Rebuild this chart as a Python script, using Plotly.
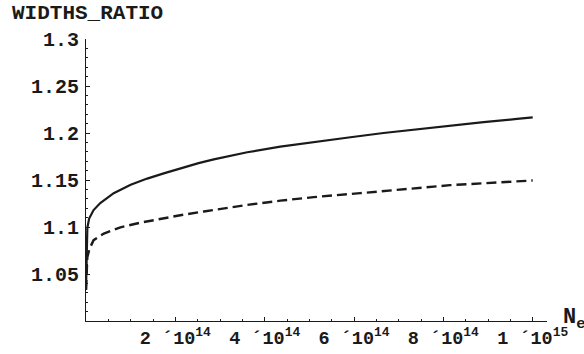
import numpy as np
import plotly.graph_objects as go

# data (N_e values, ratio)
ne_solid = [0.0, 0.01e14, 0.03e14, 0.07e14, 0.17e14, 0.32e14, 0.62e14, 1.0e14, 1.37e14, 1.74e14,
            2.11e14, 2.52e14, 2.86e14, 3.61e14, 4.35e14, 5.1e14, 5.92e14, 6.66e14, 7.41e14,
            8.15e14, 8.9e14, 9.65e14, 10.0e14]
ratio_solid = [1.033, 1.078, 1.099, 1.109, 1.118, 1.1255, 1.136, 1.145, 1.1515, 1.157,
               1.1625, 1.168, 1.172, 1.1795, 1.1855, 1.1905, 1.1955, 1.200, 1.204,
               1.208, 1.2115, 1.215, 1.2167]

ne_dashed = [0.0, 0.01e14, 0.03e14, 0.08e14, 0.17e14, 0.4e14, 0.77e14, 1.22e14, 1.67e14, 2.11e14,
             2.64e14, 3.61e14, 4.35e14, 5.1e14, 6.14e14, 6.66e14, 7.41e14, 8.15e14, 8.9e14, 10.0e14]
ratio_dashed = [1.033, 1.055, 1.068, 1.077, 1.086, 1.093, 1.0997, 1.1046, 1.109, 1.1125,
                1.1165, 1.1235, 1.128, 1.1318, 1.136, 1.138, 1.1415, 1.1445, 1.1465, 1.1495]

x_tickvals = [2e14, 4e14, 6e14, 8e14, 1e15]
x_ticktext = ["2 \u00b410<sup>14</sup>", "4 \u00b410<sup>14</sup>", "6 \u00b410<sup>14</sup>",
              "8 \u00b410<sup>14</sup>", "1 \u00b410<sup>15</sup>"]
y_tickvals = [1.05, 1.1, 1.15, 1.2, 1.25, 1.3]
y_ticktext = ["1.05", "1.1", "1.15", "1.2", "1.25", "1.3"]

FONT = "Liberation Mono, Courier New, monospace"
INK = "#1a1a1a"

fig = go.Figure()
fig.add_trace(go.Scatter(x=ne_solid, y=ratio_solid, mode="lines",
                         line=dict(color=INK, width=2.2),
                         showlegend=False))
fig.add_trace(go.Scatter(x=ne_dashed, y=ratio_dashed, mode="lines",
                         line=dict(color=INK, width=2.4, dash="10px,5px"),
                         showlegend=False))

fig.update_layout(
    width=584, height=354, autosize=False,
    margin=dict(l=86, r=37, t=39, b=33),
    paper_bgcolor="white", plot_bgcolor="white",
    xaxis=dict(range=[0, 1.032e15], showgrid=False, zeroline=False, automargin=False,
               showline=True, linecolor=INK, linewidth=1,
               tickmode="array", tickvals=x_tickvals, ticktext=x_ticktext,
               ticks="inside", ticklen=4, tickcolor=INK, ticklabelstandoff=0,
               tickfont=dict(family=FONT, size=18.5, color=INK, weight="bold"),
               minor=dict(tickmode="array", tickvals=list(np.arange(0.5e14, 1.03e15, 0.5e14)),
                          ticks="inside", ticklen=2, tickcolor=INK)),
    yaxis=dict(range=[1.0, 1.3], showgrid=False, zeroline=False, automargin=False,
               showline=True, linecolor=INK, linewidth=1,
               tickmode="array", tickvals=y_tickvals, ticktext=y_ticktext,
               ticks="inside", ticklen=4, tickcolor=INK, ticklabelstandoff=2,
               tickfont=dict(family=FONT, size=20, color=INK, weight="bold"),
               minor=dict(tickmode="array", tickvals=list(np.arange(1.01, 1.3, 0.01)),
                          ticks="inside", ticklen=2, tickcolor=INK)),
)

fig.add_annotation(text="WIDTHS_RATIO", xref="paper", yref="paper",
                   x=-0.165, y=1.092, xanchor="left", yanchor="middle", showarrow=False,
                   font=dict(family=FONT, size=21, color=INK, weight="bold"))
fig.add_annotation(text="N<sub>e</sub>", xref="paper", yref="paper",
                   x=1.03, y=0.006, xanchor="left", yanchor="middle", showarrow=False,
                   font=dict(family=FONT, size=22, color=INK, weight="bold"))

fig.write_html("out.html")
